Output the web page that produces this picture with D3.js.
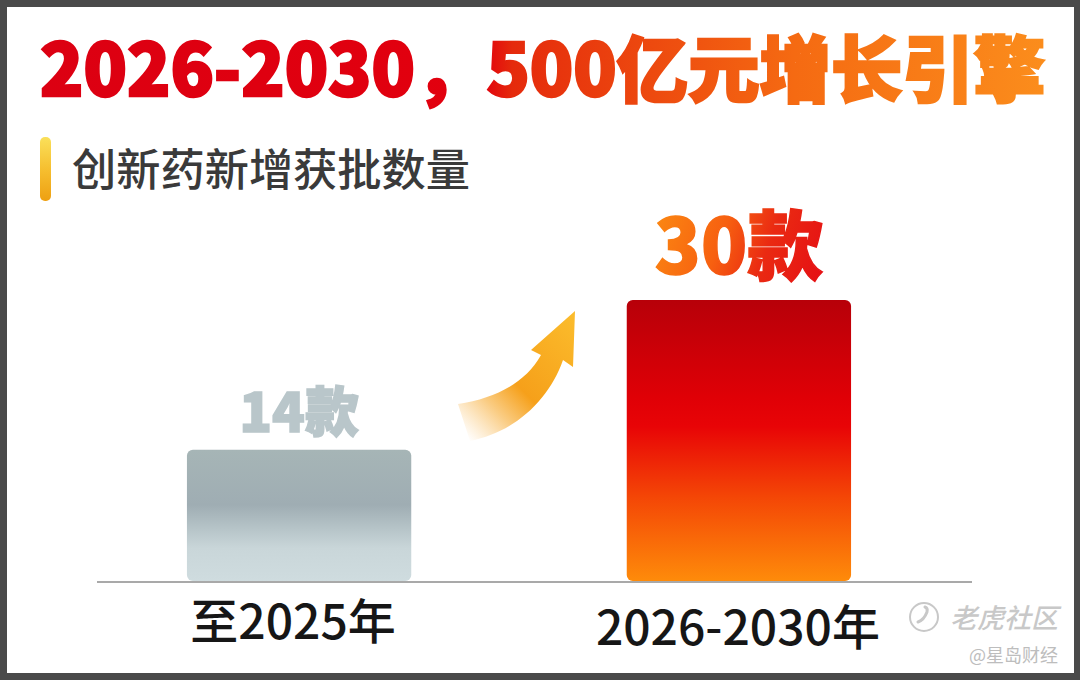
<!DOCTYPE html>
<html>
<head>
<meta charset="utf-8">
<script src="https://cdn.jsdelivr.net/npm/d3@7"></script>
<style>
  body { margin: 0; background: #4a4a4a; }
  svg { display: block; }
  text { font-family: "Noto Sans CJK SC", "Noto Sans", sans-serif; }
</style>
</head>
<body>
<svg id="chart" width="1080" height="680"></svg>
<script>
// data
const categories = ["至2025年", "2026-2030年"];
const values = [14, 30];
const valueLabels = ["14款", "30款"];
const titleText = "2026-2030，500亿元增长引擎";
const subtitleText = "创新药新增获批数量";

const W = 1080, H = 680;
const baseY = 581;

const svg = d3.select("#chart").attr("viewBox", [0, 0, W, H]);
const defs = svg.append("defs");

function linGrad(id, x1, y1, x2, y2, stops, userSpace) {
  const g = defs.append("linearGradient").attr("id", id)
    .attr("x1", x1).attr("y1", y1).attr("x2", x2).attr("y2", y2);
  if (userSpace) g.attr("gradientUnits", "userSpaceOnUse");
  stops.forEach(s => g.append("stop")
    .attr("offset", s[0]).attr("stop-color", s[1])
    .attr("stop-opacity", s[2] == null ? 1 : s[2]));
}

linGrad("gTitle", 40, 0, 1045, 0, [
  [0, "#dc0012"], [0.44, "#e2000e"], [0.47, "#e52a0c"], [0.75, "#f56a12"], [1, "#fb8d1c"]
], true);
linGrad("gBar0", 0, 0, 0, 1, [
  [0, "#a6b5b6"], [0.42, "#9fadb3"], [0.6, "#b6c4c8"], [0.75, "#c9d6d9"], [1, "#cfdcdf"]
]);
linGrad("gBar1", 0, 0, 0, 1, [
  [0, "#b70009"], [0.35, "#e00006"], [0.45, "#e80406"], [0.7, "#f44606"], [1, "#fe8b0a"]
]);
linGrad("gMark", 0, 0, 0, 1, [[0, "#fae05a"], [0.5, "#f6bf30"], [1, "#eea012"]]);
linGrad("gBig", 650, 215, 825, 280, [
  [0, "#fb8a12"], [0.4, "#f76010"], [0.65, "#ea2a12"], [1, "#e50e14"]
], true);
linGrad("gArrow", 458, 430, 575, 315, [
  [0, "#f8b040", 0], [0.25, "#f6a21c", 0.55], [0.45, "#f6a01a", 1], [1, "#fbbc2c", 1]
], true);

// frame
svg.append("rect").attr("width", W).attr("height", H).attr("fill", "#4a4a4a");
svg.append("rect").attr("x", 7).attr("y", 7).attr("width", 1067).attr("height", 666).attr("fill", "#fff");

// title
svg.append("text")
  .attr("x", 40).attr("y", 96)
  .attr("font-size", 72).attr("font-weight", 900)
  .attr("textLength", 1005).attr("lengthAdjust", "spacingAndGlyphs")
  .attr("fill", "url(#gTitle)").attr("stroke", "url(#gTitle)").attr("stroke-width", 2.5)
  .text(titleText);

// subtitle with marker
svg.append("rect").attr("x", 40).attr("y", 137).attr("width", 11).attr("height", 64)
  .attr("rx", 5).attr("fill", "url(#gMark)");
svg.append("text")
  .attr("x", 72).attr("y", 186)
  .attr("font-size", 44).attr("font-weight", 500)
  .attr("textLength", 398).attr("lengthAdjust", "spacingAndGlyphs")
  .attr("fill", "#3a3a3a")
  .text(subtitleText);

// scales
const x = d3.scaleBand().domain(categories).range([55, 983])
  .paddingInner(0.49).paddingOuter(0.3);
const y = d3.scaleLinear().domain([0, 30]).range([baseY, 300]);

// bars
svg.append("g").selectAll("rect")
  .data(values)
  .join("rect")
  .attr("x", (d, i) => x(categories[i]))
  .attr("y", d => y(d))
  .attr("width", x.bandwidth())
  .attr("height", d => baseY - y(d))
  .attr("rx", 6)
  .attr("fill", (d, i) => `url(#gBar${i})`);

// baseline
svg.append("line")
  .attr("x1", 97).attr("x2", 972).attr("y1", baseY + 1).attr("y2", baseY + 1)
  .attr("stroke", "#a9a9a9").attr("stroke-width", 2);

// value labels
const labelStyle = [
  { size: 54, fill: "#b9c6ca", off: 18 },
  { size: 76, fill: "url(#gBig)", off: 26 }
];
svg.append("g").selectAll("text")
  .data(values)
  .join("text")
  .attr("x", (d, i) => x(categories[i]) + x.bandwidth() / 2)
  .attr("y", (d, i) => y(d) - labelStyle[i].off)
  .attr("text-anchor", "middle")
  .attr("font-size", (d, i) => labelStyle[i].size)
  .attr("font-weight", 900)
  .attr("fill", (d, i) => labelStyle[i].fill)
  .attr("stroke", (d, i) => labelStyle[i].fill)
  .attr("stroke-width", 1.5)
  .text((d, i) => valueLabels[i]);

// category labels
svg.append("g").selectAll("text")
  .data(categories)
  .join("text")
  .attr("x", d => x(d) + x.bandwidth() / 2 - (d === categories[0] ? 6 : 1))
  .attr("y", (d, i) => i === 0 ? 639 : 645)
  .attr("text-anchor", "middle")
  .attr("font-size", 48)
  .attr("font-weight", 500)
  .attr("fill", "#161616")
  .text(d => d);

// growth arrow
svg.append("path")
  .attr("d", "M575,311 L573,367 L563,360 C549,400 515,432 470,441 L458,404 C497,398 526,382 541,355 L531,350 Z")
  .attr("fill", "url(#gArrow)");

// watermark
const wm = svg.append("g").attr("fill", "#c8c8c8");
wm.append("circle").attr("cx", 924).attr("cy", 617).attr("r", 14)
  .attr("fill", "none").attr("stroke", "#c8c8c8").attr("stroke-width", 2);
wm.append("path").attr("d", "M918,622 q6,-2 9,-10 q1,-4 -2,-5")
  .attr("fill", "none").attr("stroke", "#c8c8c8").attr("stroke-width", 3).attr("stroke-linecap", "round");
wm.append("text").attr("x", 1058).attr("y", 628).attr("text-anchor", "end")
  .attr("font-size", 27).attr("font-weight", 500).attr("font-style", "italic")
  .text("老虎社区");
wm.append("text").attr("x", 1058).attr("y", 662).attr("text-anchor", "end")
  .attr("font-size", 18).attr("fill", "#bdbdbd")
  .text("@星岛财经");
</script>
</body>
</html>
